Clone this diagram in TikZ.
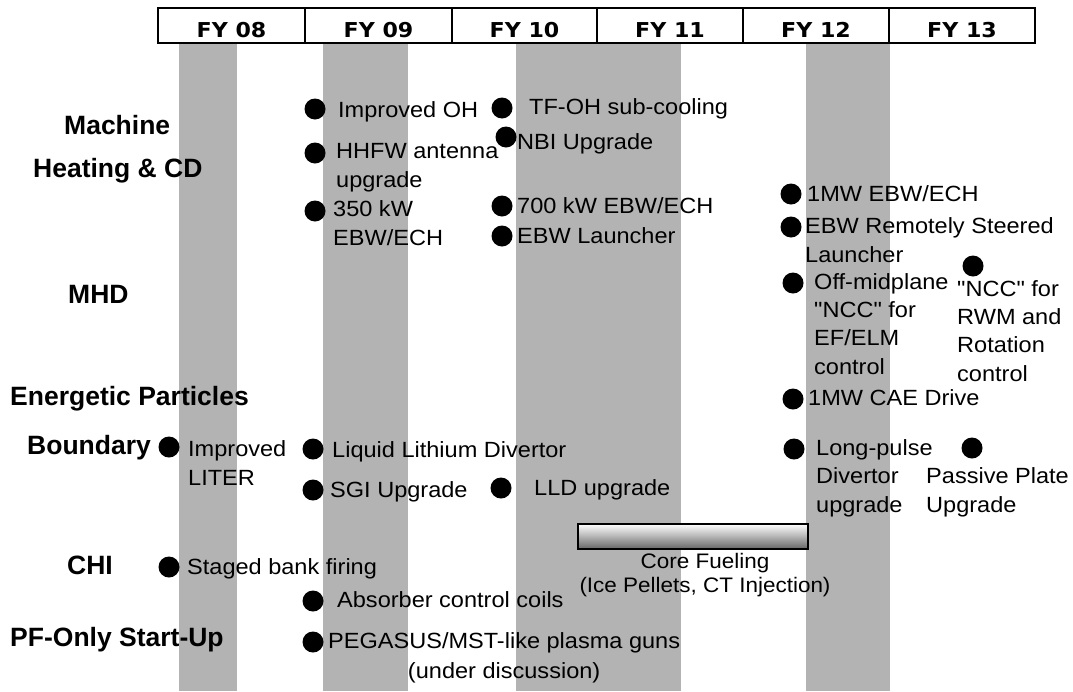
\documentclass[tikz,border=0pt]{standalone}
\usepackage{fontspec}
\setmainfont{Liberation Sans}
\newfontfamily\itemfont{Liberation Sans}[FakeStretch=1.07]
\newfontfamily\labfont{Liberation Sans}
\newfontfamily\hdrfont{DejaVu Sans}[FakeStretch=1.08]
\definecolor{band}{RGB}{179,179,179}
\tikzset{
  dot/.style={circle, fill=black, inner sep=0pt, minimum size=21pt},
  item/.style={anchor=base west, inner sep=0pt, align=left, font=\itemfont\fontsize{22}{28.3}\selectfont},
  rowlab/.style={anchor=base west, inner sep=0pt, font=\labfont\bfseries\fontsize{26.5}{30}\selectfont},
  cell/.style={draw, line width=1.6pt, anchor=base, inner sep=0pt, text height=29pt, text depth=6pt, font=\hdrfont\bfseries\fontsize{20.5}{24}\selectfont},
  fuelbar/.style={draw, line width=1.2pt, minimum width=230pt, minimum height=25pt, inner sep=0pt, top color=white, bottom color=black!60},
}
\begin{document}
\begin{tikzpicture}[x=1pt,y=-1pt]
\useasboundingbox (0,0) rectangle (1073,691);
% grey year bands
\fill[band] (179,43) rectangle (237,691);
\fill[band] (323,43) rectangle (408,691);
\fill[band] (516,43) rectangle (681,691);
\fill[band] (806,43) rectangle (890,691);
% header
\node[cell, minimum width=147pt] (fy08) at (231.5,37) {FY 08};
\node[cell, minimum width=147pt] (fy09) at (378.5,37) {FY 09};
\node[cell, minimum width=145pt] (fy10) at (524.5,37) {FY 10};
\node[cell, minimum width=146pt] (fy11) at (670,37) {FY 11};
\node[cell, minimum width=146pt] (fy12) at (816,37) {FY 12};
\node[cell, minimum width=146pt] (fy13) at (962,37) {FY 13};
% row labels
\node[rowlab] (lmach) at (64,134) {Machine};
\node[rowlab] (lheat) at (33,177) {Heating \& CD};
\node[rowlab] (lmhd) at (68,303) {MHD};
\node[rowlab] (lep) at (10,405) {Energetic Particles};
\node[rowlab] (lbnd) at (27,454) {Boundary};
\node[rowlab] (lchi) at (67,574) {CHI};
\node[rowlab] (lpf) at (10,646) {PF-Only Start-Up};
% items (multi-line texts are placed by the baseline of their last line)
\node[dot] (d1) at (315,109) {};
\node[item] (t1) at (338,117) {Improved OH};
\node[dot] (d2) at (315,153) {};
\node[item] (t2) at (336,187) {HHFW antenna\\upgrade};
\node[dot] (d3) at (315,211) {};
\node[item] (t3) at (333,245) {350 kW\\EBW/ECH};
\node[dot] (d4) at (502,108) {};
\node[item] (t4) at (529,114) {TF-OH sub-cooling};
\node[dot] (d5) at (506,137) {};
\node[item] (t5) at (517,149) {NBI Upgrade};
\node[dot] (d6) at (502,206) {};
\node[item] (t6) at (517,213) {700 kW EBW/ECH};
\node[dot] (d7) at (502,236) {};
\node[item] (t7) at (517,243) {EBW Launcher};
\node[dot] (d8) at (791,194) {};
\node[item] (t8) at (807,201) {1MW EBW/ECH};
\node[dot] (d9) at (791,227) {};
\node[item] (t9) at (805,262) {EBW Remotely Steered\\Launcher};
\node[dot] (d10) at (793,283) {};
\node[item] (t10) at (814,374) {Off-midplane\\"NCC" for\\EF/ELM\\control};
\node[dot] (d11) at (973,266) {};
\node[item] (t11) at (957,381) {"NCC" for\\RWM and\\Rotation\\control};
\node[dot] (d12) at (793,399) {};
\node[item] (t12) at (808,405) {1MW CAE Drive};
\node[dot] (d13) at (169,447) {};
\node[item] (t13) at (188,485) {Improved\\LITER};
\node[dot] (d14) at (313,449) {};
\node[item] (t14) at (332,457) {Liquid Lithium Divertor};
\node[dot] (d15) at (313,490) {};
\node[item] (t15) at (330,497) {SGI Upgrade};
\node[dot] (d16) at (501,488) {};
\node[item] (t16) at (534,495) {LLD upgrade};
\node[dot] (d17) at (794,449) {};
\node[item] (t17) at (816,512) {Long-pulse\\Divertor\\upgrade};
\node[dot] (d18) at (972,448) {};
\node[item] (t18) at (926,512) {Passive Plate\\Upgrade};
\node[dot] (d19) at (169,567) {};
\node[item] (t19) at (187,574) {Staged bank firing};
\node[dot] (d20) at (313,601) {};
\node[item] (t20) at (337,607) {Absorber control coils};
\node[dot] (d21) at (313,642) {};
\node[item, align=center, font=\itemfont\fontsize{22}{30}\selectfont] (t21) at (328,678) {PEGASUS/MST-like plasma guns\\(under discussion)};
% core fueling bar
\node[fuelbar] (fuel) at (693,536.5) {};
\node[item, anchor=base, align=center, font=\itemfont\fontsize{21}{24}\selectfont] (fueltxt) at (705,592) {Core Fueling\\(Ice Pellets, CT Injection)};
\end{tikzpicture}
\end{document}
